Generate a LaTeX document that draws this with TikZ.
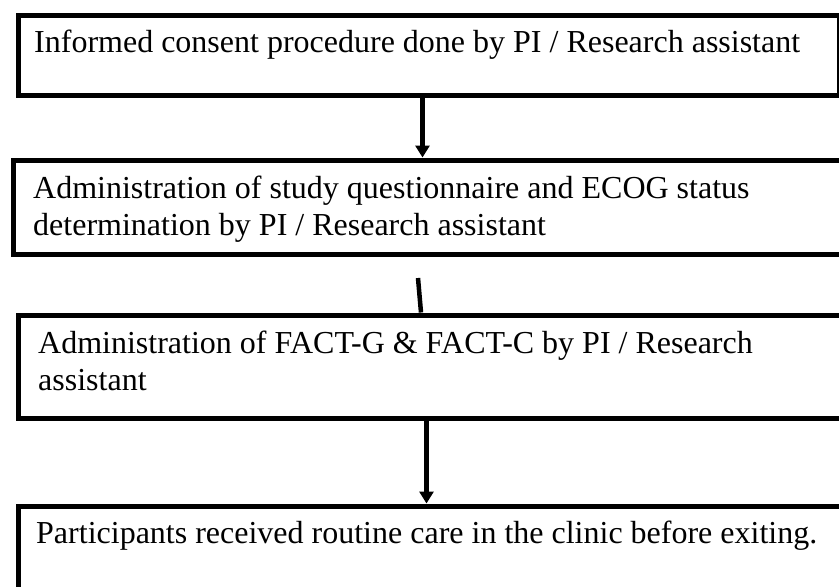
\documentclass[tikz,border=0pt]{standalone}
\usepackage{fontspec}
\setmainfont{Liberation Serif}
\usetikzlibrary{arrows.meta}

\begin{document}
\begin{tikzpicture}[x=1pt,y=-1pt,
  stage/.style={draw,line width=5pt,inner sep=0pt,anchor=north west},
  words/.style={anchor=base west,inner sep=0pt,align=left,
    font=\fontsize{32}{37}\selectfont},
  flow/.style={line width=4.5pt,-{Triangle[length=12pt,width=14pt]}}]
\useasboundingbox (0,0) rectangle (839,587);
  % boxes
  \node[stage,minimum width=821pt,minimum height=80pt] (b1) at (15.5,12.5) {};
  \node[stage,minimum width=830pt,minimum height=94pt] (b2) at (10.5,157.5) {};
  \node[stage,minimum width=840pt,minimum height=103pt] (b3) at (15.5,312.5) {};
  \node[stage,minimum width=840pt,minimum height=120pt] (b4) at (15.5,503.5) {};
  % texts (base = last line)
  \node[words] (t1) at (34,52) {Informed consent procedure done by PI / Research assistant};
  \node[words] (t2) at (33,235) {Administration of study questionnaire and ECOG status\\
    determination by PI / Research assistant};
  \node[words] (t3) at (38,390) {Administration of FACT-G \& FACT-C by PI / Research\\
    assistant};
  \node[words] (t4) at (36,543) {Participants received routine care in the clinic before exiting.};
  % arrows
  \coordinate (gap) at (418,278);
  \draw[flow] ([xshift=-6pt]b1.south) -- ([xshift=-6pt]b1.south |- b2.north);
  \draw[line width=4.5pt] (gap) -- ([xshift=3pt]gap |- b3.north);
  \draw[flow] ([xshift=-11.5pt]b3.south) -- ([xshift=-11.5pt]b3.south |- b4.north);
\end{tikzpicture}
\end{document}
